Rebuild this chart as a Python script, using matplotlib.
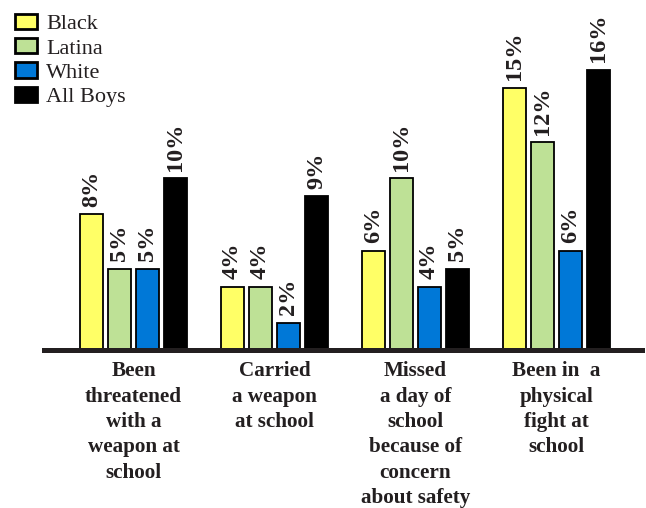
import matplotlib
matplotlib.use("Agg")
import matplotlib.pyplot as plt
import numpy as np

categories = ["Been\nthreatened\nwith a\nweapon at\nschool",
              "Carried\na weapon\nat school",
              "Missed\na day of\nschool\nbecause of\nconcern\nabout safety",
              "Been in  a\nphysical\nfight at\nschool"]
series_names = ["Black", "Latina", "White", "All Boys"]
black = [8, 4, 6, 15]
latina = [5, 4, 10, 12]
white = [5, 2, 4, 6]
all_boys = [10, 9, 5, 16]
series_values = [black, latina, white, all_boys]
colors = ["#FFFF66", "#BEE196", "#0078D7", "#000000"]
text_color = "#231F20"

plt.rcParams['font.family'] = ['Liberation Serif', 'DejaVu Serif']

fig = plt.figure(figsize=(6.46, 5.08), dpi=100)
ax = fig.add_axes([0, 0.311, 1, 0.689])

step = 28 / 141
width = 23 / 141
x = np.arange(len(categories))
handles = []
for i, (name, vals, c) in enumerate(zip(series_names, series_values, colors)):
    pos = x + (i - 1.5) * step
    b = ax.bar(pos, vals, width=width, color=c, edgecolor="black", linewidth=1.3,
               label=name, zorder=2)
    handles.append(b)
    for px, v in zip(pos, vals):
        ax.annotate(f"{v}%", (px, v), xytext=(0, 5.5), textcoords="offset points",
                    rotation=90, ha="center", va="bottom", fontsize=17.5,
                    fontweight="bold", color=text_color)

ax.set_xlim(-133.5 / 141, (646 - 133.5) / 141)
ax.set_ylim(0.5, 0.5 + 350 / 18.07)
ax.axhline(0.5, xmin=44 / 646, xmax=642 / 646, color=text_color, linewidth=3.6,
           clip_on=False, zorder=5)
for s in ax.spines.values():
    s.set_visible(False)
ax.set_xticks([])
ax.set_yticks([])
ax.patch.set_alpha(0)

for xi, cat in zip(x, categories):
    ax.annotate(cat, (xi, 0.5), xytext=(0, -8), textcoords="offset points",
                ha="center", va="top", multialignment="center", fontsize=15.2,
                fontweight="bold", color=text_color, linespacing=1.36,
                annotation_clip=False)

leg = fig.legend(handles=handles, labels=series_names, loc="upper left",
                 bbox_to_anchor=(15 / 646, 1 - 14 / 508), frameon=False,
                 fontsize=16, handlelength=1.0, handleheight=0.68,
                 handletextpad=0.4, labelspacing=0.17, borderpad=0,
                 borderaxespad=0)
for t in leg.get_texts():
    t.set_color(text_color)
for h in leg.legend_handles:
    h.set_linewidth(2)

fig.savefig("out.png", dpi=100)
